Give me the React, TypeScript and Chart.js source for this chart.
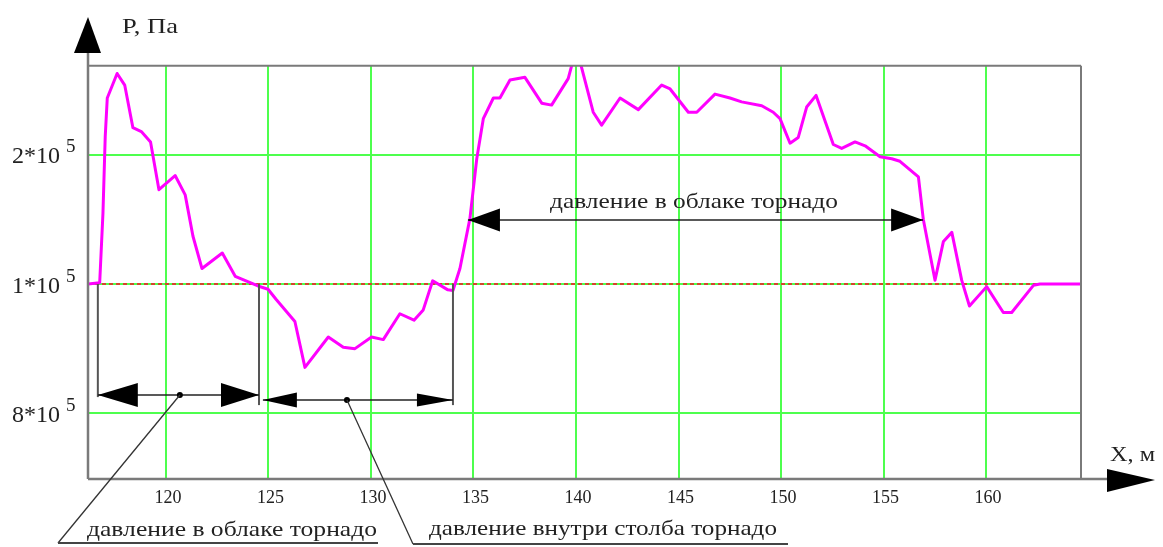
import { useEffect, useRef } from "react";
import { Chart, registerables } from "chart.js";

Chart.register(...registerables);

// ---- data (x in m, y in chart pressure units: 0 → "8*10^5", 1 → "1*10^5", 2 → "2*10^5") ----
const xPositions = [
  116.2, 116.77, 116.93, 117.04, 117.14, 117.62, 117.99, 118.39, 118.8, 119.25,
  119.66, 120.45, 120.94, 121.32, 121.76, 122.75, 123.38, 124.49, 124.98, 125.38,
  126.29, 126.78, 127.92, 128.65, 129.22, 130.03, 130.6, 131.41, 132.1, 132.55,
  133.01, 133.75, 134.0, 134.34, 134.83, 135.16, 135.48, 135.97, 136.29, 136.78,
  137.51, 138.33, 138.81, 139.62, 139.84, 140.2, 140.84, 141.25, 142.15, 143.04,
  144.18, 144.59, 145.48, 145.89, 146.78, 147.51, 148.08, 149.06, 149.62, 149.95,
  150.44, 150.84, 151.25, 151.71, 152.55, 152.96, 153.61, 154.1, 154.83, 155.4,
  155.8, 156.7, 156.94, 157.51, 157.92, 158.33, 158.81, 159.19, 160.03, 160.84,
  161.25, 162.31, 162.63, 164.63,
];
const pressure = [
  1.0, 1.01, 1.55, 2.14, 2.44, 2.63, 2.54, 2.21, 2.18, 2.1,
  1.73, 1.84, 1.69, 1.37, 1.12, 1.24, 1.06, 0.985, 0.96, 0.88,
  0.71, 0.355, 0.59, 0.51, 0.5, 0.59, 0.57, 0.77, 0.72, 0.8,
  1.025, 0.955, 0.95, 1.12, 1.51, 1.97, 2.28, 2.44, 2.44, 2.58,
  2.6, 2.4, 2.385, 2.59, 2.72, 2.72, 2.33, 2.23, 2.44, 2.35,
  2.54, 2.51, 2.33, 2.33, 2.47, 2.44, 2.41, 2.38, 2.33, 2.28,
  2.09, 2.135, 2.37, 2.46, 2.08, 2.05, 2.1, 2.07, 1.985, 1.97,
  1.95, 1.83, 1.5, 1.03, 1.33, 1.4, 1.03, 0.83, 0.98, 0.78,
  0.78, 0.99, 1.0, 1.0,
];
const referenceLevel = [1, 1];
const xRange = [116.2, 164.63];
const yRange = [-0.509, 2.69];

const xTickValues = [120, 125, 130, 135, 140, 145, 150, 155, 160];
const xTickLabels = ["120", "125", "130", "135", "140", "145", "150", "155", "160"];
const yTickValues = [0, 1, 2];
const yTickMantissa = ["8*10", "1*10", "2*10"];
const yTickExponent = ["5", "5", "5"];

const axisTitleY = "P, Па";
const axisTitleX = "X, м";
const labelCloud = "давление в облаке торнадо";
const labelColumn = "давление внутри столба торнадо";

const SERIF = '"Liberation Serif", "DejaVu Serif", serif';
const TEXT = "#222";

function fitText(ctx: CanvasRenderingContext2D, s: string, left: number, base: number, w: number, size: number) {
  ctx.font = `${size}px ${SERIF}`;
  const m = ctx.measureText(s).width;
  ctx.save();
  ctx.translate(left, base);
  ctx.scale(w / m, 1);
  ctx.textAlign = "left";
  ctx.textBaseline = "alphabetic";
  ctx.fillText(s, 0, 0);
  ctx.restore();
}

const decorPlugin = {
  id: "decor",
  afterDraw(chart: any) {
    const { ctx, chartArea: a } = chart;
    const xs = chart.scales.x;
    const ys = chart.scales.y;
    const X = (v: number) => xs.getPixelForValue(v);
    const Y = (v: number) => ys.getPixelForValue(v);
    const line = (x1: number, y1: number, x2: number, y2: number) => {
      ctx.beginPath();
      ctx.moveTo(x1, y1);
      ctx.lineTo(x2, y2);
      ctx.stroke();
    };
    const tri = (p: number[][]) => {
      ctx.beginPath();
      ctx.moveTo(p[0][0], p[0][1]);
      ctx.lineTo(p[1][0], p[1][1]);
      ctx.lineTo(p[2][0], p[2][1]);
      ctx.closePath();
      ctx.fill();
    };
    const head = (tx: number, ty: number, dir: number, len: number, half: number) => {
      tri([[tx, ty], [tx - dir * len, ty - half], [tx - dir * len, ty + half]]);
    };

    ctx.save();
    ctx.lineCap = "butt";
    // frame
    ctx.strokeStyle = "#7a7a7a";
    ctx.lineWidth = 2;
    line(a.left, a.top, a.right, a.top);
    line(a.right, a.top, a.right, a.bottom);
    ctx.lineWidth = 2.5;
    line(a.left, a.top - 13, a.left, a.bottom);
    line(a.left, a.bottom, a.right + 27, a.bottom);
    // axis arrows
    ctx.fillStyle = "#000";
    tri([[a.left, 17], [a.left - 14, 53], [a.left + 13, 53]]);
    tri([[a.right + 74, a.bottom + 1], [a.right + 26, a.bottom - 10], [a.right + 26, a.bottom + 13]]);

    // axis titles
    ctx.fillStyle = TEXT;
    fitText(ctx, axisTitleY, 122, 33, 56, 22);
    fitText(ctx, axisTitleX, 1110, 461, 45, 22);

    // x tick labels
    ctx.font = `18px ${SERIF}`;
    ctx.textAlign = "center";
    ctx.textBaseline = "alphabetic";
    xTickValues.forEach((v, i) => ctx.fillText(xTickLabels[i], X(v) + 2, 503));

    // y tick labels
    yTickValues.forEach((v, i) => {
      const py = Y(v);
      ctx.textAlign = "left";
      ctx.font = `24px ${SERIF}`;
      ctx.fillText(yTickMantissa[i], 12, py + 8.5);
      const w = ctx.measureText(yTickMantissa[i]).width;
      ctx.font = `19px ${SERIF}`;
      ctx.fillText(yTickExponent[i], 12 + w + 6, py - 2.5);
    });

    // extension lines
    ctx.strokeStyle = "#555";
    ctx.lineWidth = 2;
    line(X(116.68), Y(1), X(116.68), Y(0.125));
    line(X(124.54), Y(1), X(124.54), Y(0.063));
    line(X(134.0), Y(1), X(134.0), Y(0.063));

    // dimension lines
    ctx.strokeStyle = "#222";
    ctx.fillStyle = "#000";
    ctx.lineWidth = 1.5;
    line(X(116.68), Y(0.141), X(124.54), Y(0.141));
    head(X(116.68), Y(0.141), -1, 40, 12);
    head(X(124.54), Y(0.141), 1, 38, 12);
    line(X(124.73), Y(0.102), X(134.0), Y(0.102));
    head(X(124.73), Y(0.102), -1, 34, 7.5);
    head(X(134.0), Y(0.102), 1, 36, 6.5);
    line(X(134.73), Y(1.495), X(156.93), Y(1.495));
    head(X(134.73), Y(1.495), -1, 32, 11.5);
    head(X(156.93), Y(1.495), 1, 32, 11.5);

    // dots and leaders
    const d1x = X(120.68), d1y = Y(0.141);
    const d2x = X(128.83), d2y = Y(0.102);
    ctx.beginPath();
    ctx.arc(d1x, d1y, 3, 0, Math.PI * 2);
    ctx.fill();
    ctx.beginPath();
    ctx.arc(d2x, d2y, 3, 0, Math.PI * 2);
    ctx.fill();
    ctx.strokeStyle = "#333";
    ctx.lineWidth = 1.3;
    line(d1x, d1y, 58, 543);
    line(d2x, d2y, 413, 544);
    ctx.lineWidth = 2;
    ctx.strokeStyle = "#444";
    line(58, 543, 378, 543);
    line(413, 544, 788, 544);

    // annotation texts
    ctx.fillStyle = TEXT;
    fitText(ctx, labelCloud, 87, 536, 290, 22);
    fitText(ctx, labelColumn, 429, 535, 348, 22);
    fitText(ctx, labelCloud, 550, 208, 288, 22);

    ctx.restore();
  },
};

export default function App() {
  const ref = useRef<HTMLCanvasElement>(null);
  useEffect(() => {
    if (!ref.current) return;
    const chart = new Chart(ref.current, {
      type: "line",
      data: {
        datasets: [
          {
            label: "P",
            data: xPositions.map((x, i) => ({ x, y: pressure[i] })),
            borderColor: "#ff00ff",
            borderWidth: 3,
            pointRadius: 0,
            tension: 0,
            borderJoinStyle: "round",
          },
          {
            label: "P0",
            data: xRange.map((x, i) => ({ x, y: referenceLevel[i] })),
            borderColor: "#d2452c",
            borderWidth: 2,
            borderDash: [4, 3],
            pointRadius: 0,
          },
        ],
      },
      options: {
        animation: false,
        responsive: false,
        layout: { padding: { left: 88, right: 82, top: 65.7, bottom: 68 } },
        plugins: { legend: { display: false }, tooltip: { enabled: false } },
        scales: {
          x: {
            type: "linear",
            min: xRange[0],
            max: xRange[1],
            afterBuildTicks: (s: any) => {
              s.ticks = xTickValues.map((v) => ({ value: v }));
            },
            ticks: { display: false },
            grid: { color: "#4dff4d", lineWidth: 2, drawTicks: false },
            border: { display: false },
          },
          y: {
            type: "linear",
            min: yRange[0],
            max: yRange[1],
            afterBuildTicks: (s: any) => {
              s.ticks = yTickValues.map((v) => ({ value: v }));
            },
            ticks: { display: false },
            grid: { color: "#4dff4d", lineWidth: 2, drawTicks: false },
            border: { display: false },
          },
        },
      },
      plugins: [decorPlugin],
    } as any);
    return () => chart.destroy();
  }, []);
  return (
    <div style={{ position: "fixed", left: 0, top: 0, width: 1163, height: 547, background: "#fff" }}>
      <canvas ref={ref} width={1163} height={547} style={{ display: "block" }} />
    </div>
  );
}
